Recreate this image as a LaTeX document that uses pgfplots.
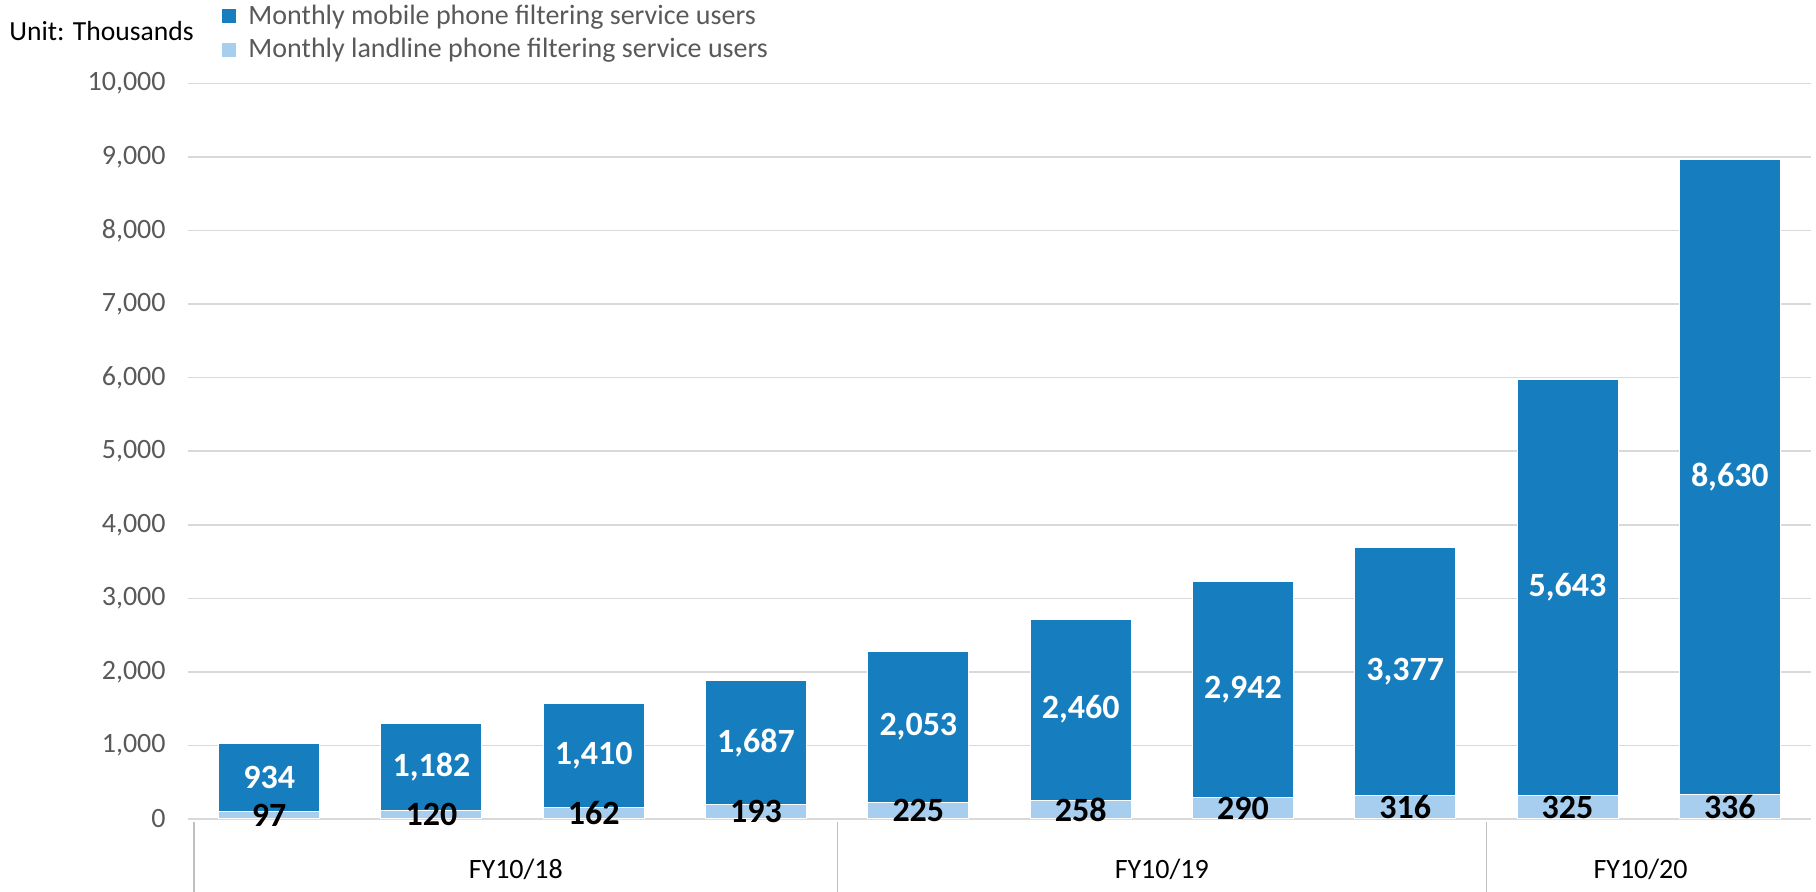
\documentclass[border=0pt]{standalone}
\usepackage{pgfplots}
\pgfplotsset{compat=1.18}
\usepackage{pgfplotstable}
\usepackage{fontspec}
\setmainfont{Carlito}

\definecolor{mobile}{HTML}{167DBE}
\definecolor{landline}{HTML}{A7CEEE}
\definecolor{gridgray}{HTML}{D9D9D9}
\definecolor{ticktext}{HTML}{595959}
\definecolor{divider}{HTML}{BFBFBF}

% Monthly filtering service users (thousands), by quarter
\pgfplotstableread{
idx land mobile
0   97   934
1   120  1182
2   162  1410
3   193  1687
4   225  2053
5   258  2460
6   290  2942
7   316  3377
8   325  5643
9   336  8630
}\users

\begin{document}
\begin{tikzpicture}
\useasboundingbox (0,0) rectangle (908pt,446pt);
\node[anchor=west, inner sep=0pt, font=\fontsize{13.8}{16}\selectfont] at (4.5pt,430.5pt) {Unit: Thousands};
\begin{axis}[
  at={(94pt,36.5pt)}, anchor=south west,
  scale only axis, width=811.5pt, height=367.8pt,
  ybar stacked, bar width=50.5pt,
  xmin=-0.5, xmax=9.5, ymin=0, ymax=10000,
  ytick={0,1000,...,10000}, xtick=\empty,
  scaled y ticks=false,
  ymajorgrids, major grid style={gridgray, line width=0.8pt},
  axis line style={draw=none},
  major tick length=0pt,
  yticklabel style={font=\fontsize{14}{16}\selectfont, text=ticktext, inner sep=0pt, xshift=-11pt},
  clip=false,
  legend style={at={(axis description cs:0.021,1.110)}, anchor=north west,
    draw=none, fill=none, inner sep=0pt, row sep=3.5pt,
    font=\fontsize{14}{16}\selectfont, text=ticktext,
    nodes={inner sep=1pt},
    /tikz/every odd column/.append style={column sep=5pt}},
  legend cell align=left,
  legend image code/.code={\fill[#1, draw=none] (0pt,-3.5pt) rectangle (7pt,3.5pt);},
  reverse legend,
  nodes near coords,
  every node near coord/.append style={anchor=center,
    font=\fontsize{17}{18}\selectfont\bfseries},
  point meta=explicit,
  /pgf/number format/.cd, 1000 sep={,}, assume math mode=true,
]
\addplot[fill=landline, draw=white, line width=0.5pt,
  every node near coord/.append style={text=black}]
  table[x=idx, y=land, meta=land] {\users};
\addlegendentry{Monthly landline phone filtering service users}
\addplot[fill=mobile, draw=white, line width=0.5pt,
  every node near coord/.append style={text=white}]
  table[x=idx, y=mobile, meta=mobile] {\users};
\addlegendentry{Monthly mobile phone filtering service users}

% category group separators and labels
\draw[divider, line width=0.6pt] ([xshift=3pt, yshift=-1.5pt]axis cs:-0.5,0) -- ([xshift=3pt, yshift=-36.5pt]axis cs:-0.5,0);
\draw[divider, line width=0.6pt] ([yshift=-1.5pt]axis cs:3.5,0) -- ([yshift=-36.5pt]axis cs:3.5,0);
\draw[divider, line width=0.6pt] ([yshift=-1.5pt]axis cs:7.5,0) -- ([yshift=-36.5pt]axis cs:7.5,0);
\node[font=\fontsize{14}{16}\selectfont] at ([yshift=-25pt]axis cs:1.52,0) {FY10/18};
\node[font=\fontsize{14}{16}\selectfont] at ([yshift=-25pt]axis cs:5.5,0) {FY10/19};
\node[font=\fontsize{14}{16}\selectfont] at ([yshift=-25pt]axis cs:8.45,0) {FY10/20};
\end{axis}
\end{tikzpicture}
\end{document}
